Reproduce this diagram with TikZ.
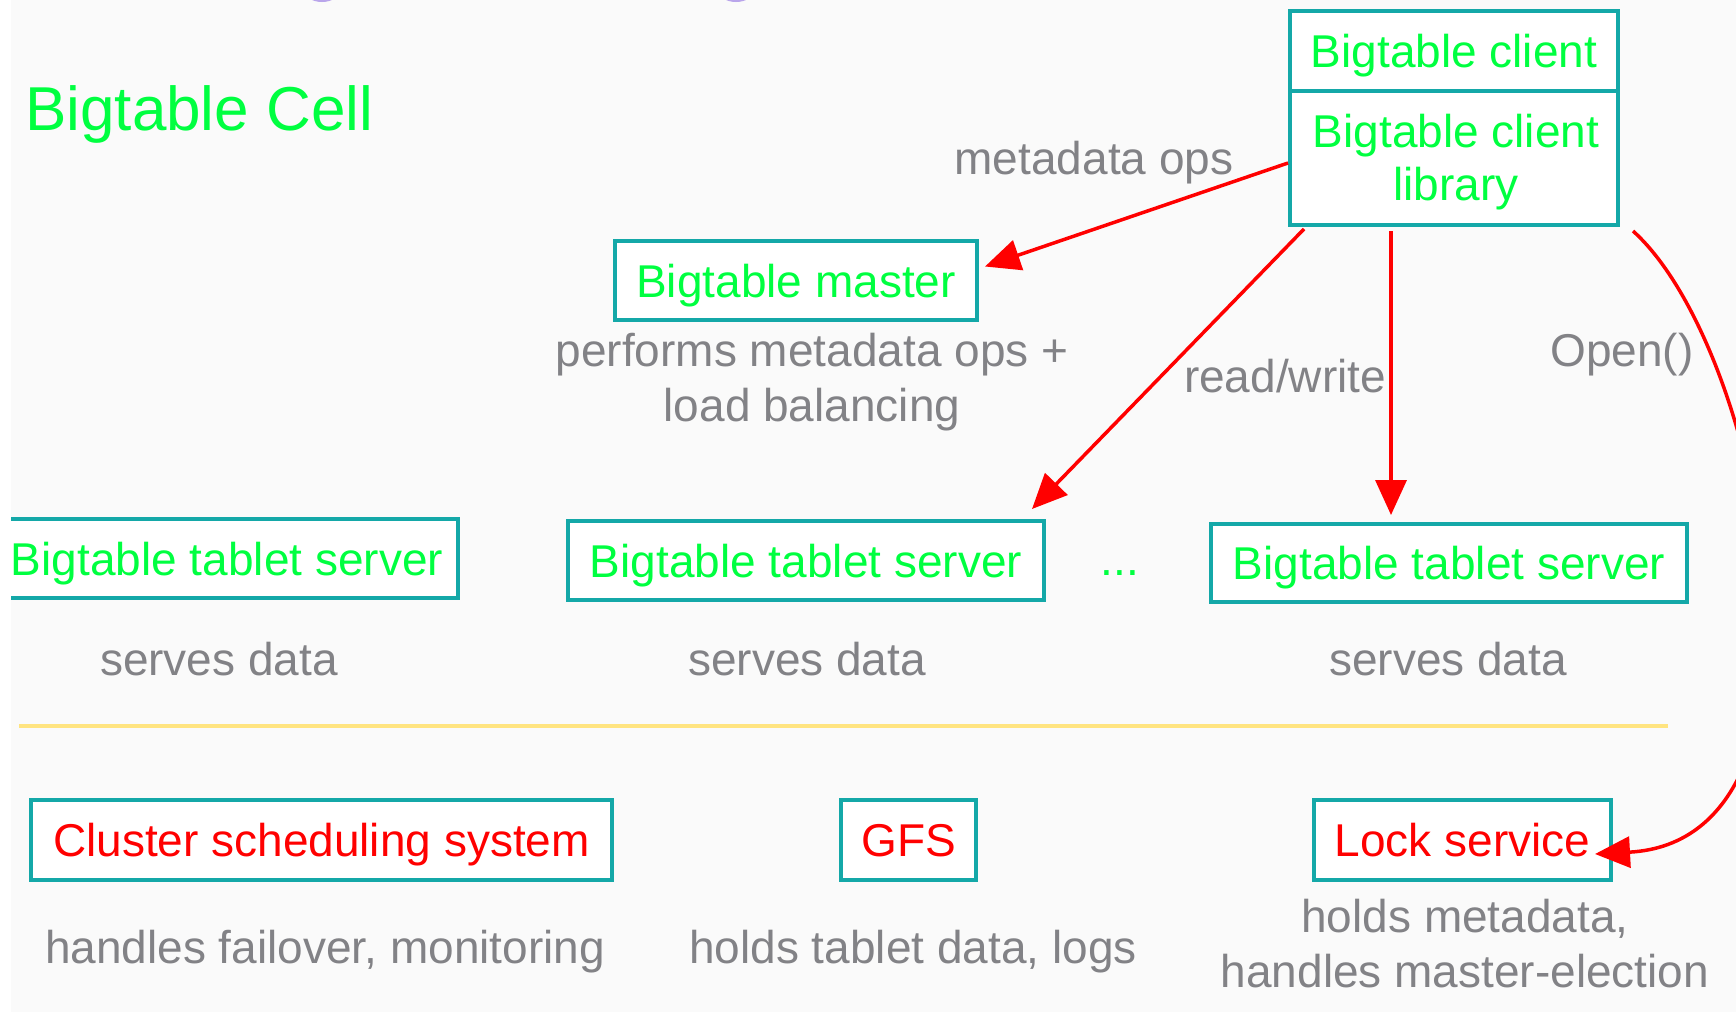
\documentclass[tikz,border=0pt]{standalone}
\usepackage{fontspec}
\setmainfont{Liberation Sans}
\usetikzlibrary{arrows.meta}
\definecolor{bg}{RGB}{250,250,250}
\definecolor{tgreen}{RGB}{0,255,64}
\definecolor{tteal}{RGB}{20,168,168}
\definecolor{tgray}{RGB}{130,130,134}
\definecolor{tred}{RGB}{255,0,0}
\definecolor{tyellow}{RGB}{255,228,128}
\definecolor{tpurple}{RGB}{185,165,235}
\begin{document}
\begin{tikzpicture}[x=1pt,y=-1pt,
  bigfont/.style={font=\fontsize{46}{54}\selectfont},
  boxg/.style={draw=tteal, line width=4pt, fill=white, inner sep=0pt, text=tgreen, bigfont, text height=33pt, text depth=0pt},
  boxr/.style={boxg, text=tred},
  lbl/.style={text=tgray, bigfont, inner sep=0pt, anchor=base},
  gtxt/.style={text=tgreen, bigfont, inner sep=0pt, anchor=base},
  arr/.style={draw=tred, line width=3.5pt, -{Triangle[length=35pt,width=31pt]}},
]
\useasboundingbox (0,0) rectangle (1736,1012);
\fill[bg] (0,0) rectangle (1736,1012);
\begin{scope}
\clip (0,0) rectangle (1736,1012);
\fill[tpurple] (322,-10) ellipse [x radius=18, y radius=12];
\fill[tpurple] (736,-10) ellipse [x radius=18, y radius=12];

% title
\node[gtxt, font=\fontsize{62}{70}\selectfont, anchor=base west] (title) at (25,130) {Bigtable Cell};

% client boxes
\node[boxg, minimum width=328pt, minimum height=80pt] (client) at (1454,51) {Bigtable client};
\node[boxg, minimum width=328pt, minimum height=134pt] (clientlib) at (1454,158) {};
\node[gtxt] (cl1) at (1456,147) {Bigtable client};
\node[gtxt] (cl2) at (1456,200) {library};

% master
\node[boxg, minimum width=362pt, minimum height=79pt] (master) at (796,280.5) {Bigtable master};
\node[lbl] (perf1) at (812,366) {performs metadata ops +};
\node[lbl] (perf2) at (812,421) {load balancing};

% tablet servers
\node[boxg, minimum width=462pt, minimum height=79pt] (ts1) at (227,558.5) {Bigtable tablet server};
\node[boxg, minimum width=476pt, minimum height=79pt] (ts2) at (806,560.5) {Bigtable tablet server};
\node[boxg, minimum width=476pt, minimum height=78pt] (ts3) at (1449,563) {Bigtable tablet server};
\node[gtxt] (dots) at (1120,575) {...};
\node[lbl] (sd1) at (219,675) {serves data};
\node[lbl] (sd2) at (807,675) {serves data};
\node[lbl] (sd3) at (1448,675) {serves data};

% separator
\draw[tyellow, line width=4pt] (19,726) -- (1668,726);

% bottom services
\node[boxr, minimum width=581pt, minimum height=80pt] (cluster) at (321.5,840) {Cluster scheduling system};
\node[boxr, minimum width=135pt, minimum height=80pt] (gfs) at (908.5,840) {GFS};
\node[boxr, minimum width=297pt, minimum height=80pt] (lock) at (1462.5,840) {Lock service};
\node[lbl] (d1) at (325,963) {handles failover, monitoring};
\node[lbl] (d2) at (913,963) {holds tablet data, logs};
\node[lbl] (d3a) at (1465,932) {holds metadata,};
\node[lbl] (d3b) at (1465,987) {handles master-election};

% arrow labels
\node[lbl] (mdops) at (1094,174) {metadata ops};
\node[lbl] (rw) at (1285,392) {read/write};
\node[lbl] (open) at (1622,366) {Open()};

% arrows
\draw[arr] ([yshift=-5pt]clientlib.west) -- ([xshift=6pt,yshift=14pt]master.east);
\draw[arr] ([xshift=16pt,yshift=-2pt]clientlib.south west) -- ([xshift=-14pt,yshift=10pt]ts2.north east);
\draw[arr] ([xshift=-63pt,yshift=-4pt]clientlib.south) -- ([xshift=-58pt,yshift=7pt]ts3.north);
\draw[arr] ([xshift=13pt,yshift=-4pt]clientlib.south east) .. controls (1765,350) and (1855,840) .. ([xshift=-18pt,yshift=-14pt]lock.east);

\fill[white] (0,0) rectangle (11,1012);
\end{scope}
\end{tikzpicture}
\end{document}
